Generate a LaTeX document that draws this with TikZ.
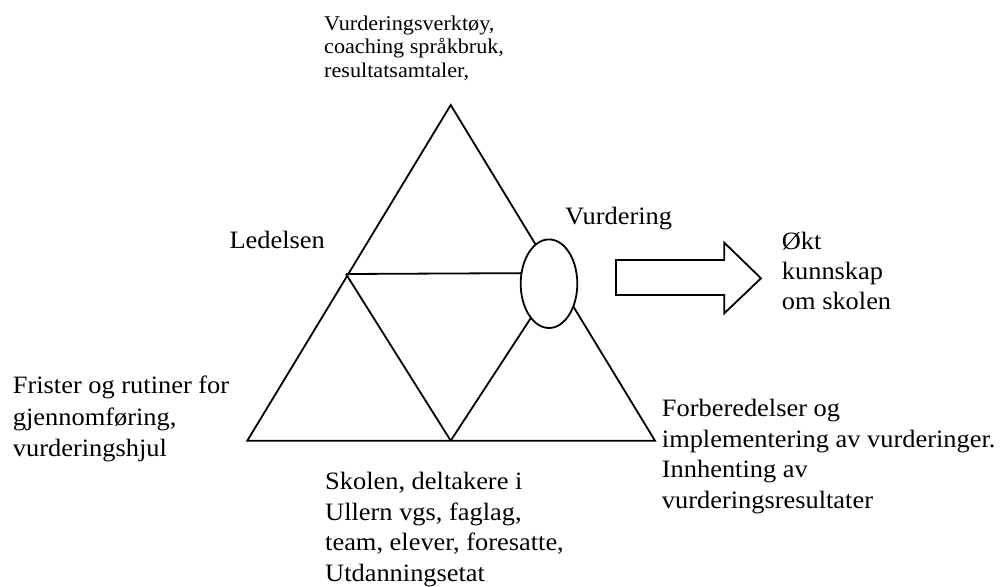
\documentclass[tikz,border=0pt]{standalone}
\usepackage{fontspec}
\setmainfont{Liberation Serif}[FakeStretch=1.056]
\usetikzlibrary{shapes.geometric}
\begin{document}
\begin{tikzpicture}[x=1pt,y=-1pt,
  edge/.style={line width=1.8pt, line join=miter},
  lbl/.style={anchor=base west, inner sep=0pt, align=left, font=\fontsize{25}{31}\selectfont},
  smalllbl/.style={anchor=base west, inner sep=0pt, align=left, font=\fontsize{21}{23.8}\selectfont}]
\useasboundingbox (0,0) rectangle (1000,586);
% corners and midpoints
\coordinate (A) at (450.7,105);
\coordinate (B) at (247.3,440.7);
\coordinate (C) at (655,440.7);
\coordinate (L) at (346,274);
\coordinate (M) at (450.7,440.7);
\coordinate (Rh) at (550,273);
\coordinate (Rd) at (545.2,296);
% triangle
\draw[edge] (A) -- (B) -- (C) -- cycle;
\draw[edge] (L) -- (M);
\draw[edge] (L) -- (Rh);
\draw[edge] (M) -- (Rd);
% ellipse
\node[ellipse, draw, line width=1.8pt, fill=white, minimum width=56.6pt, minimum height=88.6pt, inner sep=0pt] (E) at (549,283.7) {};
% block arrow
\draw[edge] (616,260) -- (724.3,260) -- (724.3,242.7) -- (761,278.3) -- (724.3,313.3) -- (724.3,295) -- (616,295) -- cycle;
% texts (anchor = baseline of last line)
\node[smalllbl] (top) at (324,77.7) {Vurderingsverktøy,\\coaching språkbruk,\\resultatsamtaler,};
\node[lbl] (led) at (229.3,248.3) {Ledelsen};
\node[lbl] (vur) at (565,224) {Vurdering};
\node[lbl, font=\fontsize{25}{30}\selectfont] (okt) at (781.7,309.3) {Økt\\kunnskap\\om skolen};
\node[lbl, font=\fontsize{25}{31.7}\selectfont] (fri) at (12.7,456.7) {Frister og rutiner for\\gjennomføring,\\vurderingshjul};
\node[lbl, font=\fontsize{25}{30.5}\selectfont] (for) at (661.7,508.3) {Forberedelser og\\implementering av vurderinger.\\Innhenting av\\vurderingsresultater};
\node[lbl, font=\fontsize{25}{30.5}\selectfont] (sko) at (325,581) {Skolen, deltakere i\\Ullern vgs, faglag,\\team, elever, foresatte,\\Utdanningsetat};
\end{tikzpicture}
\end{document}
